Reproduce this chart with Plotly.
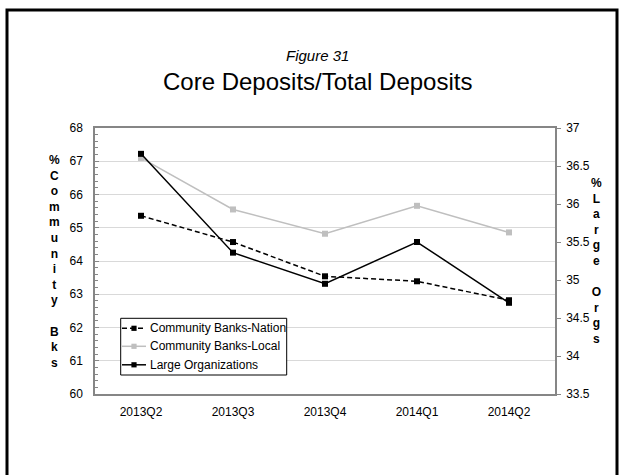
import plotly.graph_objects as go

# Quarterly core-deposit ratios (%)
quarters = ["2013Q2", "2013Q3", "2013Q4", "2014Q1", "2014Q2"]
cb_nation = [65.36, 64.57, 63.54, 63.39, 62.82]
cb_local = [67.10, 65.55, 64.82, 65.66, 64.86]
large_orgs = [36.66, 35.36, 34.95, 35.50, 34.70]

FONT = "Arial, Liberation Sans, sans-serif"
AXIS_GRAY = "#868686"
LOCAL_GRAY = "#bfbfbf"
NATION_DASH = "5px,3px"

W, H = 624, 475
M_L, M_R, M_T, M_B = 95, 69, 128, 81
PLOT_W = W - M_L - M_R
PLOT_H = H - M_T - M_B


def px_x(px):
    """Pixel column -> paper x."""
    return (px - M_L) / PLOT_W


def px_y(py):
    """Pixel row -> paper y."""
    return (H - M_B - py) / PLOT_H


series = [
    dict(name="Community Banks-Nation", y=cb_nation, color="#000000", dash=NATION_DASH, axis="y"),
    dict(name="Community Banks-Local", y=cb_local, color=LOCAL_GRAY, dash="solid", axis="y"),
    dict(name="Large Organizations", y=large_orgs, color="#000000", dash="solid", axis="y2"),
]

fig = go.Figure()
for s in series:
    fig.add_trace(go.Scatter(
        x=quarters, y=s["y"], name=s["name"], yaxis=s["axis"],
        mode="lines+markers",
        line=dict(color=s["color"], width=1.5, dash=s["dash"]),
        marker=dict(symbol="square", size=6, color=s["color"]),
        showlegend=False,
    ))

fig.update_layout(
    width=W, height=H,
    margin=dict(l=M_L, r=M_R, t=M_T, b=M_B),
    paper_bgcolor="white", plot_bgcolor="white",
    font=dict(family=FONT, size=12, color="#000000"),
    showlegend=False,
    xaxis=dict(
        type="category", range=[-0.5, 4.5],
        showline=True, linecolor=AXIS_GRAY, linewidth=1.5, mirror=True,
        showgrid=False, ticks="", ticklabelstandoff=6,
        tickfont=dict(size=12),
    ),
    yaxis=dict(
        range=[60, 68], dtick=1,
        showline=True, linecolor=AXIS_GRAY, linewidth=1.5,
        showgrid=True, gridcolor="#d9d9d9", gridwidth=1,
        ticks="inside", ticklen=4, tickcolor=AXIS_GRAY,
        minor=dict(ticks="inside", dtick=0.2, ticklen=3,
                   tickcolor=AXIS_GRAY, showgrid=False),
        ticklabelstandoff=8, zeroline=False,
        tickfont=dict(size=12),
    ),
    yaxis2=dict(
        range=[33.5, 37], dtick=0.5, overlaying="y", side="right",
        showline=True, linecolor=AXIS_GRAY, linewidth=1.5,
        showgrid=False, zeroline=False,
        ticks="outside", ticklen=4, tickcolor=AXIS_GRAY,
        ticklabelstandoff=3,
        tickfont=dict(size=12),
    ),
)

# Titles
fig.add_annotation(
    text="<i>Figure 31</i>", xref="paper", yref="paper",
    x=0.483, y=1.272, xanchor="center", yanchor="middle",
    showarrow=False, font=dict(size=15, family=FONT),
)
fig.add_annotation(
    text="Core Deposits/Total Deposits", xref="paper", yref="paper",
    x=0.483, y=1.174, xanchor="center", yanchor="middle",
    showarrow=False, font=dict(size=24, family=FONT),
)

# Stacked vertical axis titles
left_title = "<br>".join(list("%Community")) + "<br> <br>" + "<br>".join(list("Bks"))
right_title = "<br>".join(list("%Large")) + "<br> <br>" + "<br>".join(list("Orgs"))
fig.add_annotation(
    text="<b>" + left_title + "</b>", xref="paper", yref="paper",
    x=-0.088, y=0.5, xanchor="center", yanchor="middle",
    showarrow=False, font=dict(size=12, family=FONT),
)
fig.add_annotation(
    text="<b>" + right_title + "</b>", xref="paper", yref="paper",
    x=1.091, y=0.5, xanchor="center", yanchor="middle",
    showarrow=False, font=dict(size=12, family=FONT),
)

# Legend box with line/marker samples
LEG_X0, LEG_X1, LEG_Y0, LEG_Y1 = 120.7, 286.7, 318.3, 375.0
ROW_Y = [328.3, 346.3, 364.8]
SAMPLE_X0, SAMPLE_X1, MARK_X, TEXT_X = 122.0, 146.0, 134.0, 148.5
MARK_HALF = 2.6

fig.add_shape(
    type="rect", xref="paper", yref="paper",
    x0=px_x(LEG_X0), x1=px_x(LEG_X1), y0=px_y(LEG_Y1), y1=px_y(LEG_Y0),
    line=dict(color="#000000", width=1), fillcolor="white", layer="above",
)
for s, ry in zip(series, ROW_Y):
    fig.add_shape(
        type="line", xref="paper", yref="paper",
        x0=px_x(SAMPLE_X0), x1=px_x(SAMPLE_X1), y0=px_y(ry), y1=px_y(ry),
        line=dict(color=s["color"], width=1.5, dash=s["dash"]), layer="above",
    )
    fig.add_shape(
        type="rect", xref="paper", yref="paper",
        x0=px_x(MARK_X - MARK_HALF), x1=px_x(MARK_X + MARK_HALF),
        y0=px_y(ry + MARK_HALF), y1=px_y(ry - MARK_HALF),
        line=dict(width=0), fillcolor=s["color"], layer="above",
    )
    fig.add_annotation(
        text=s["name"], xref="paper", yref="paper",
        x=px_x(TEXT_X), y=px_y(ry), xanchor="left", yanchor="middle",
        showarrow=False, font=dict(size=12, family=FONT),
        borderpad=0,
    )

# Outer chart frame
fig.add_shape(
    type="rect", xref="paper", yref="paper",
    x0=px_x(7), x1=px_x(617), y0=px_y(478), y1=px_y(10),
    line=dict(color="#000000", width=3), fillcolor="rgba(0,0,0,0)",
    layer="below",
)

fig.write_html("out.html")
